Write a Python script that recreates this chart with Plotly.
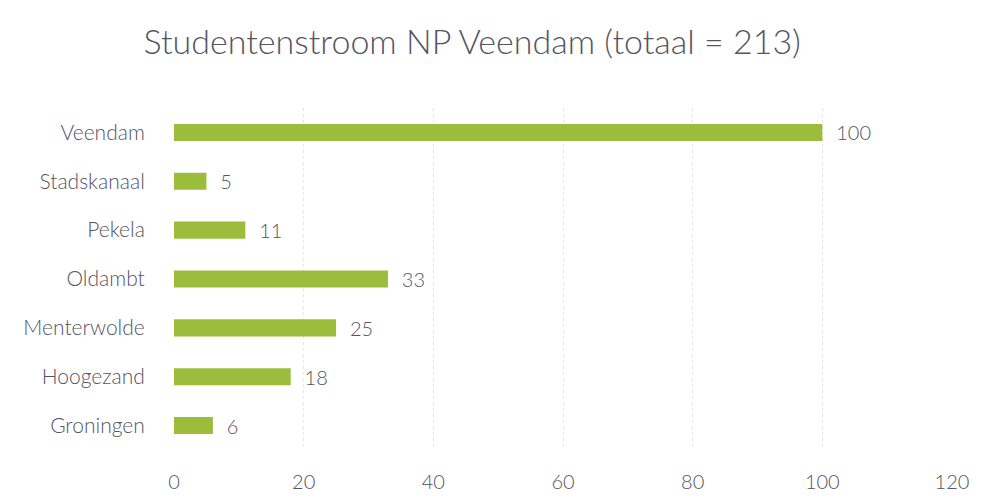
import plotly.graph_objects as go

categories = ["Groningen", "Hoogezand", "Menterwolde", "Oldambt", "Pekela", "Stadskanaal", "Veendam"]
values = [6, 18, 25, 33, 11, 5, 100]
x_ticks = [0, 20, 40, 60, 80, 100, 120]

text_color = "#55555F"
bar_color = "#9CBC3C"
font_family = "Lato, Open Sans, sans-serif"

fig = go.Figure(go.Bar(
    y=categories, x=values, orientation="h",
    marker=dict(color=bar_color, line=dict(width=0)),
    width=0.35,
    text=values, texttemplate="  %{x}", textposition="outside",
    constraintext="none",
    textfont=dict(size=20, color=text_color, family=font_family, weight=300),
    cliponaxis=False,
))

fig.update_layout(
    width=990, height=504,
    margin=dict(l=174, r=38, t=108, b=54, autoexpand=False),
    paper_bgcolor="white", plot_bgcolor="white",
    font=dict(family=font_family, color=text_color, size=20, weight=300),
    title=dict(text="Studentenstroom NP Veendam (totaal = 213)", x=0.477, xanchor="center",
               y=0.917, yanchor="middle",
               font=dict(size=34, color=text_color, family=font_family, weight=300)),
    showlegend=False,
)
fig.update_xaxes(range=[0, 120], tickvals=x_ticks, showgrid=True, gridcolor="#E6E6EA",
                 gridwidth=1, griddash="dot", zeroline=False, showline=False, ticks="outside",
                 ticklen=14, tickcolor="rgba(0,0,0,0)", automargin=False,
                 tickfont=dict(size=20, color=text_color, family=font_family, weight=300))
fig.update_yaxes(showgrid=False, zeroline=False, showline=False, ticks="outside",
                 ticklen=24, tickcolor="rgba(0,0,0,0)", automargin=False,
                 tickfont=dict(size=21, color=text_color, family=font_family, weight=300))

fig.write_html("out.html", config={"displayModeBar": False},
               post_script="document.body.style.margin='0';")
